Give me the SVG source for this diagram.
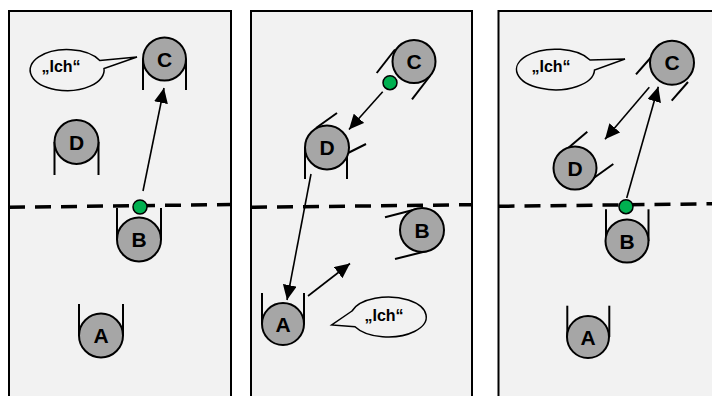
<svg xmlns="http://www.w3.org/2000/svg" width="712" height="396" viewBox="0 0 712 396">
<style>
.panel{fill:#f2f2f2;stroke:#000;stroke-width:2}
.dash{fill:none;stroke:#000;stroke-width:3.5;stroke-dasharray:16 10}
.cup{fill:none;stroke:#000;stroke-width:2}
.pl{fill:#a6a6a6;stroke:#000;stroke-width:2}
.lbl{font-family:"Liberation Sans",Arial,sans-serif;font-weight:bold;font-size:21px;text-anchor:middle;fill:#000}
.ball{fill:#00b050;stroke:#000;stroke-width:1.5}
.bub{fill:#f2f2f2;stroke:#000;stroke-width:1.5}
.btx{font-family:"Liberation Sans",Arial,sans-serif;font-weight:bold;font-size:16px;text-anchor:middle;fill:#000}
.arr{fill:none;stroke:#000;stroke-width:1.6;marker-end:url(#ah)}
</style>
<defs>
<marker id="ah" markerUnits="userSpaceOnUse" markerWidth="16" markerHeight="14" viewBox="0 0 16 14" refX="15" refY="7" orient="auto">
<path d="M0,0 L15,7 L0,14 z" fill="#000"/>
</marker>
</defs>
<rect width="712" height="396" fill="#fff"/>
<g id="panels">
<rect class="panel" x="9" y="11" width="222" height="400"/>
<rect class="panel" x="251" y="11" width="221" height="400"/>
<rect class="panel" x="498.5" y="11" width="230" height="400"/>
<line class="dash" x1="9" y1="207.3" x2="231" y2="204.5"/>
<line class="dash" x1="251" y1="207.3" x2="472" y2="204.7"/>
<line class="dash" x1="498.5" y1="206.3" x2="712" y2="203.8"/>
</g>
<g id="connectors">
<line class="arr" x1="143" y1="191" x2="164" y2="88"/>
<line class="arr" x1="382.7" y1="91.7" x2="349" y2="129.5"/>
<line class="arr" x1="311" y1="174" x2="287" y2="300"/>
<line class="arr" x1="308" y1="296" x2="350" y2="263.5"/>
<line class="arr" x1="649.3" y1="87.3" x2="605" y2="139.3"/>
<line class="arr" x1="626.7" y1="198" x2="658.3" y2="86.7"/>
</g>
<g id="p1-bubble">
<path class="bub" d="M99.8,60.5 L137,57 L104,68.5 A37,20.5 0 1 1 99.8,60.5 z"/>
<text class="btx" x="61" y="72">„Ich“</text>
</g>
<g id="p1-C">
<line class="cup" x1="143" y1="59" x2="143" y2="90"/>
<line class="cup" x1="186" y1="59" x2="186" y2="90"/>
<circle class="pl" cx="164.5" cy="59" r="21.5"/>
<text class="lbl" x="164.5" y="66.5">C</text>
</g>
<g id="p1-D">
<line class="cup" x1="54.5" y1="142" x2="54.5" y2="175"/>
<line class="cup" x1="98.5" y1="142" x2="98.5" y2="175"/>
<circle class="pl" cx="76.5" cy="142" r="22"/>
<text class="lbl" x="76.5" y="149.5">D</text>
</g>
<g id="p1-B">
<line class="cup" x1="117" y1="208" x2="117" y2="239.5"/>
<line class="cup" x1="161" y1="208" x2="161" y2="239.5"/>
<circle class="pl" cx="139" cy="239.5" r="22"/>
<text class="lbl" x="139" y="247">B</text>
</g>
<g id="p1-ball"><circle class="ball" cx="140" cy="207" r="7"/></g>
<g id="p1-A">
<line class="cup" x1="79" y1="304" x2="79" y2="335.5"/>
<line class="cup" x1="123" y1="304" x2="123" y2="335.5"/>
<circle class="pl" cx="101" cy="335.5" r="22"/>
<text class="lbl" x="101" y="343">A</text>
</g>
<g id="p2-C">
<line class="cup" x1="376.7" y1="73" x2="395" y2="49.5"/>
<line class="cup" x1="412" y1="99.3" x2="430" y2="76"/>
<circle class="pl" cx="414" cy="61.5" r="21.5"/>
<text class="lbl" x="414" y="69">C</text>
</g>
<g id="p2-ball"><circle class="ball" cx="390" cy="82.7" r="7"/></g>
<g id="p2-D">
<line class="cup" x1="305" y1="147" x2="305" y2="179"/>
<line class="cup" x1="347" y1="148" x2="347" y2="179"/>
<line class="cup" x1="316" y1="128" x2="337" y2="113"/>
<line class="cup" x1="344" y1="155" x2="366" y2="144"/>
<circle class="pl" cx="327" cy="147.5" r="22"/>
<text class="lbl" x="327" y="155">D</text>
</g>
<g id="p2-B">
<line class="cup" x1="385" y1="217.3" x2="417" y2="209"/>
<line class="cup" x1="395" y1="259" x2="427" y2="251"/>
<circle class="pl" cx="422" cy="230" r="22"/>
<text class="lbl" x="422" y="237.5">B</text>
</g>
<g id="p2-A">
<line class="cup" x1="262" y1="293" x2="262" y2="324"/>
<line class="cup" x1="304" y1="293" x2="304" y2="324"/>
<circle class="pl" cx="283" cy="324" r="21"/>
<text class="lbl" x="283" y="331.5">A</text>
</g>
<g id="p2-bubble">
<path class="bub" d="M352,311 L331.7,325 L355,326.7 A38,20 0 1 0 352,311 z"/>
<text class="btx" x="384" y="321">„Ich“</text>
</g>
<g id="p3-bubble">
<path class="bub" d="M590,60 L625,59 L594.5,70 A39,20.3 0 1 1 590,60 z"/>
<text class="btx" x="551" y="72">„Ich“</text>
</g>
<g id="p3-C">
<line class="cup" x1="636" y1="74.3" x2="653" y2="55"/>
<line class="cup" x1="671.7" y1="100.7" x2="688" y2="82"/>
<circle class="pl" cx="672" cy="62.8" r="22"/>
<text class="lbl" x="672" y="70.3">C</text>
</g>
<g id="p3-D">
<line class="cup" x1="567" y1="149" x2="587.3" y2="131.7"/>
<line class="cup" x1="591" y1="180" x2="613.3" y2="164"/>
<circle class="pl" cx="575" cy="168" r="21.5"/>
<text class="lbl" x="575" y="175.5">D</text>
</g>
<g id="p3-B">
<line class="cup" x1="606" y1="209.3" x2="606" y2="241"/>
<line class="cup" x1="648.5" y1="209.3" x2="648.5" y2="241"/>
<circle class="pl" cx="627" cy="241" r="21.5"/>
<text class="lbl" x="627" y="248.5">B</text>
</g>
<g id="p3-ball"><circle class="ball" cx="626" cy="206.7" r="7"/></g>
<g id="p3-A">
<line class="cup" x1="567.3" y1="305.7" x2="567.3" y2="337"/>
<line class="cup" x1="609.3" y1="305.7" x2="609.3" y2="337"/>
<circle class="pl" cx="588" cy="337" r="21"/>
<text class="lbl" x="588" y="344.5">A</text>
</g>
</svg>
